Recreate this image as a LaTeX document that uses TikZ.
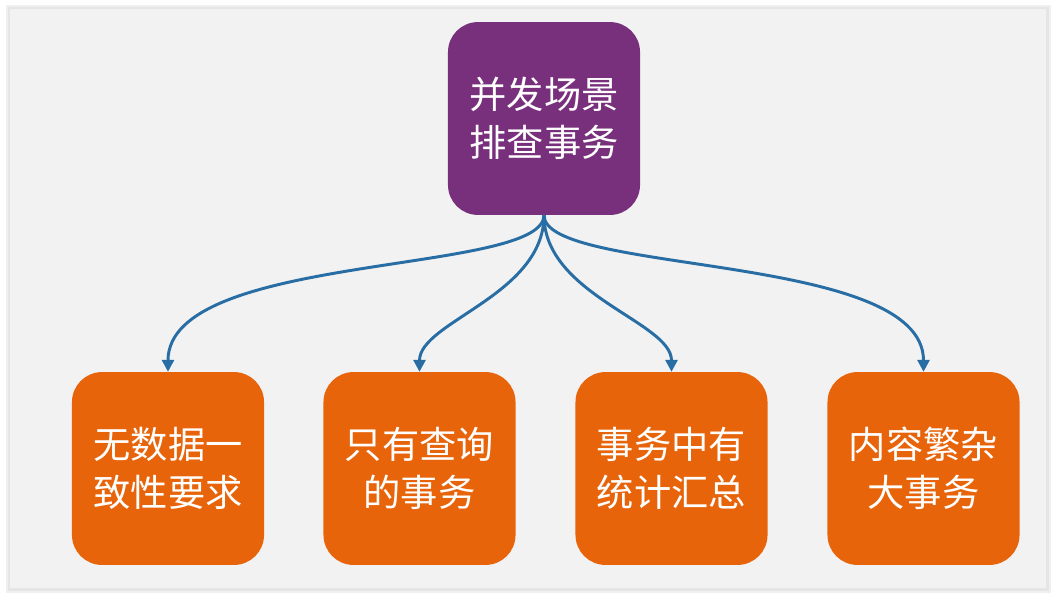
\documentclass[tikz,border=0pt]{standalone}
\usepackage{fontspec}
\usepackage{tikz}
\usetikzlibrary{arrows.meta}
\usepackage{color}
\newfontfamily\cjk{Noto Sans CJK SC}

\definecolor{panelgray}{RGB}{242,242,242}
\definecolor{topviolet}{RGB}{120,48,124}
\definecolor{leaforange}{RGB}{232,100,10}
\definecolor{linkblue}{RGB}{40,110,165}

\begin{document}
\begin{tikzpicture}[
            x=0.025cm, y=-0.025cm,
        box node/.style={rectangle,rounded corners=0.75cm,minimum width=4.8cm,minimum height=4.82cm,
                         align=center,text=white,font=\cjk\fontsize{26.5}{34}\selectfont},
        top node/.style={box node,fill=topviolet},
        leaf node/.style={box node,fill=leaforange},
        link/.style={draw=linkblue,line width=2.1pt,-{Triangle[length=0.3cm,width=0.3cm]}}
                                ]
    \useasboundingbox (0,0) rectangle (1056,598);
    \fill[white] (0,0) rectangle (1056,598);
    % frame with a soft shadow
    \fill[black!6] (6,5) rectangle (1051,593);
    \fill[black!10] (8,7) rectangle (1049,591);
    \fill[panelgray] (10,9) rectangle (1046,588);

          \node[top node] (top) at (544,118.5) {并发场景\\排查事务};
          \node[leaf node] (a) at (168,468.5) {无数据一\\致性要求};
          \node[leaf node] (b) at (419.5,468.5) {只有查询\\的事务};
          \node[leaf node] (c) at (671.5,468.5) {事务中有\\统计汇总};
          \node[leaf node] (d) at (923.5,468.5) {内容繁杂\\大事务};

    \draw[link] (top.south) .. controls +(0,60) and +(0,-120) .. (a.north);
    \draw[link] (top.south) .. controls +(0,80) and +(0,-50) .. (b.north);
    \draw[link] (top.south) .. controls +(0,80) and +(0,-50) .. (c.north);
    \draw[link] (top.south) .. controls +(0,60) and +(0,-120) .. (d.north);
    \end{tikzpicture}
\end{document}
